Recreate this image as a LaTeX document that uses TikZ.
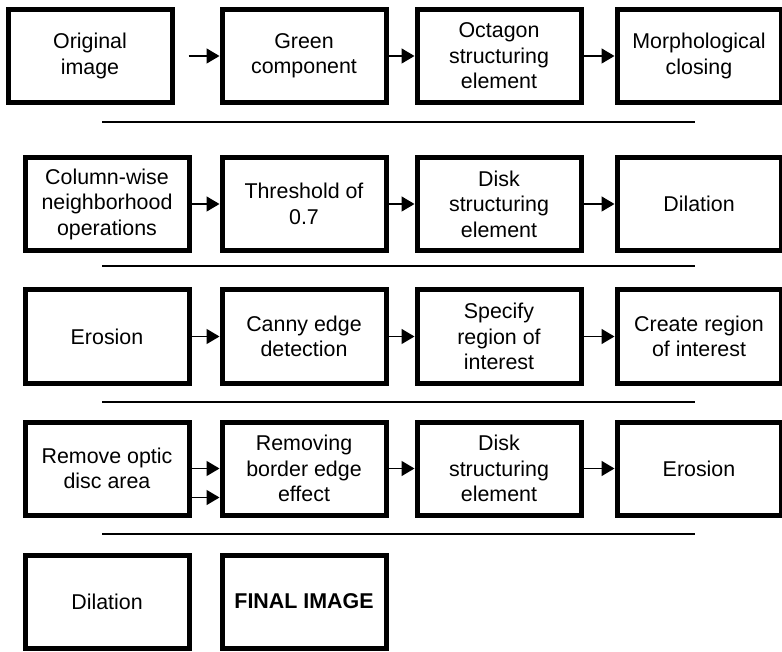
\documentclass[tikz,border=0pt]{standalone}
\usepackage{fontspec}
\setmainfont{Liberation Sans}
\usetikzlibrary{arrows.meta}

\tikzset{
	stage/.style={draw, line width=5pt, minimum width=164pt, minimum height=93pt, inner sep=2pt, align=center, font=\fontsize{21.4}{25.5}\selectfont},
	flow/.style={line width=1.5pt, -{Triangle[length=13pt, width=15pt]}},
	rule/.style={line width=1.5pt}
}

\begin{document}
\begin{tikzpicture}[x=1pt, y=-1pt]
		\useasboundingbox (0, 0) rectangle (782, 652);
		\node [stage] (orig) at (90, 56) {Original\\image};
		\node [stage] (green) at (304, 56) {Green\\component};
		\node [stage] (octa) at (499, 56) {Octagon\\structuring\\element};
		\node [stage] (close) at (699, 56) {Morphological\\closing};
		\draw [flow, shorten <=14pt] (orig) -- (green);
		\draw [flow] (green) -- (octa);
		\draw [flow] (octa) -- (close);
		\draw [rule] (102, 122) -- (695, 122);
		\node [stage] (column) at (107, 204) {Column-wise\\neighborhood\\operations};
		\node [stage] (thresh) at (304, 204) {Threshold of\\0.7};
		\node [stage] (disk) at (499, 204) {Disk\\structuring\\element};
		\node [stage] (dilate) at (699, 204) {Dilation};
		\draw [flow] (column) -- (thresh);
		\draw [flow] (thresh) -- (disk);
		\draw [flow] (disk) -- (dilate);
		\draw [rule] (102, 266) -- (695, 266);
		\node [stage] (erode) at (107, 336.5) {Erosion};
		\node [stage] (canny) at (304, 336.5) {Canny edge\\detection};
		\node [stage] (spec) at (499, 336.5) {Specify\\region of\\interest};
		\node [stage] (roi) at (699, 336.5) {Create region\\of interest};
		\draw [flow] (erode) -- (canny);
		\draw [flow] (canny) -- (spec);
		\draw [flow] (spec) -- (roi);
		\draw [rule] (102, 402) -- (695, 402);
		\node [stage] (optic) at (107, 468.5) {Remove optic\\disc area};
		\node [stage] (border) at (304, 468.5) {Removing\\border edge\\effect};
		\node [stage] (disktwo) at (499, 468.5) {Disk\\structuring\\element};
		\node [stage] (erodetwo) at (699, 468.5) {Erosion};
		\draw [flow] (optic) -- (border);
		\draw [flow] ([yshift=-29pt]optic.east) -- ([yshift=-29pt]border.west);
		\draw [flow] (border) -- (disktwo);
		\draw [flow] (disktwo) -- (erodetwo);
		\draw [rule] (102, 534) -- (695, 534);
		\node [stage] (dilatetwo) at (107, 601.5) {Dilation};
		\node [stage] (final) at (304, 601.5) {\textbf{FINAL IMAGE}};
\end{tikzpicture}
\end{document}
